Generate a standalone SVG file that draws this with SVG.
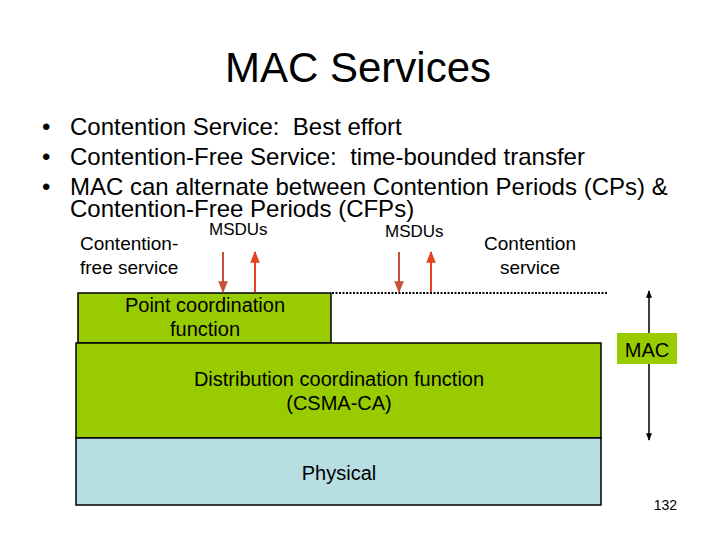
<svg xmlns="http://www.w3.org/2000/svg" width="720" height="540" viewBox="0 0 720 540">
<style>
text{font-family:"Liberation Sans",Arial,sans-serif;fill:#000;white-space:pre}
.t{font-size:42px;text-anchor:middle}
.b{font-size:24px}
.l{font-size:19px}
.c{font-size:20px;text-anchor:middle}
.m{font-size:17px}
.box{stroke:#000;stroke-width:1.5}
.g{fill:#99cc00}
.p{fill:#b7dee3}
</style>
<defs>
<marker id="hd" viewBox="0 0 10 10" refX="9" refY="5" markerWidth="6" markerHeight="6" orient="auto"><path d="M0,1 L10,5 L0,9 z" fill="#c8503a"/></marker>
<marker id="hu" viewBox="0 0 10 10" refX="9" refY="5" markerWidth="6" markerHeight="6" orient="auto"><path d="M0,1 L10,5 L0,9 z" fill="#e8431e"/></marker>
<marker id="hk" viewBox="0 0 10 10" refX="9" refY="5" markerWidth="5" markerHeight="5" orient="auto"><path d="M0,1 L10,5 L0,9 z" fill="#000"/></marker>
</defs>
<rect width="720" height="540" fill="#fff"/>
<text class="t" x="358" y="82">MAC Services</text>
<g id="bullets">
<text class="b" x="42" y="135">•</text><text class="b" x="70" y="135" xml:space="preserve">Contention Service:  Best effort</text>
<text class="b" x="42" y="165">•</text><text class="b" x="70" y="165" xml:space="preserve">Contention-Free Service:  time-bounded transfer</text>
<text class="b" x="42" y="195">•</text><text class="b" x="70" y="195">MAC can alternate between Contention Periods (CPs) &amp;</text>
<text class="b" x="70" y="217">Contention-Free Periods (CFPs)</text>
</g>
<g id="labels">
<text class="l" x="80" y="250">Contention-</text>
<text class="l" x="80" y="274">free service</text>
<text class="c" x="530" y="250" style="font-size:19px">Contention</text>
<text class="c" x="530" y="274" style="font-size:19px">service</text>
<text class="m" x="209" y="235">MSDUs</text>
<text class="m" x="385" y="237">MSDUs</text>
</g>
<g id="pcf">
<rect class="box g" x="78" y="293" width="253" height="50"/>
<text class="c" x="205" y="312">Point coordination</text>
<text class="c" x="205" y="336">function</text>
</g>
<g id="dcf">
<rect class="box g" x="76" y="343" width="525" height="95"/>
<text class="c" x="339" y="386">Distribution coordination function</text>
<text class="c" x="339" y="410">(CSMA-CA)</text>
</g>
<g id="physical">
<rect class="box p" x="76" y="438" width="525" height="67"/>
<text class="c" x="339" y="480">Physical</text>
</g>
<g id="mac">
<rect class="g" x="617" y="333" width="60" height="31"/>
<text class="c" x="647" y="357">MAC</text>
</g>
<g id="connectors">
<line x1="332" y1="293" x2="607" y2="293" stroke="#000" stroke-width="2" stroke-dasharray="2,1.5"/>
<line x1="223" y1="252" x2="223" y2="292" stroke="#c8503a" stroke-width="2" marker-end="url(#hd)"/>
<line x1="255" y1="292" x2="255" y2="252" stroke="#e8431e" stroke-width="2" marker-end="url(#hu)"/>
<line x1="399" y1="252" x2="399" y2="292" stroke="#c8503a" stroke-width="2" marker-end="url(#hd)"/>
<line x1="431" y1="292" x2="431" y2="252" stroke="#e8431e" stroke-width="2" marker-end="url(#hu)"/>
<line x1="649" y1="333" x2="649" y2="291" stroke="#000" stroke-width="1.5" marker-end="url(#hk)"/>
<line x1="649" y1="364" x2="649" y2="440" stroke="#000" stroke-width="1.5" marker-end="url(#hk)"/>
</g>
<text x="677" y="510" style="font-size:14px;text-anchor:end">132</text>
</svg>
